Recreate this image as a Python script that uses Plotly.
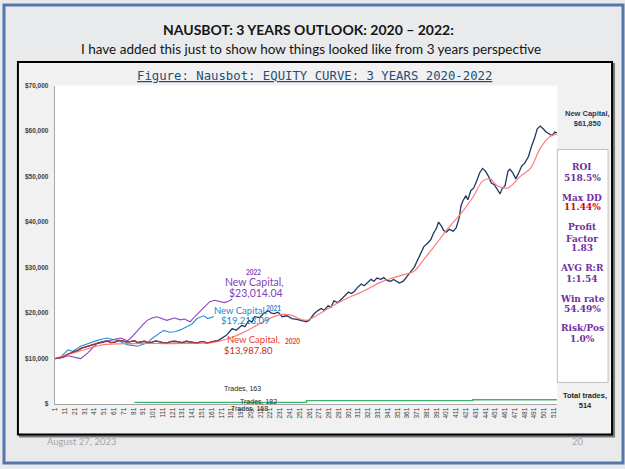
import plotly.graph_objects as go

W, H = 625, 469

# ---------------- data ----------------
# 2020 equity (trade number, equity)
trades_2020 = [1, 5, 9, 13, 17, 21, 24, 28, 31, 35, 39, 42, 46, 50, 54, 58, 62, 66, 70, 74, 78, 82, 85, 89,
               92, 96, 100, 104, 107, 111, 115, 119, 123, 127, 131, 135, 139, 143, 146, 150, 153, 156, 159, 163, 168]
equity_2020 = [10000, 10100, 10300, 10900, 11200, 11500, 11800, 12300, 12500, 12800, 13000, 13300, 13500, 13700,
               13900, 13500, 13600, 14000, 13900, 13600, 13700, 13900, 13500, 13700, 13800, 13500, 13600, 13900,
               13700, 13500, 13400, 13700, 13800, 13600, 13500, 13800, 13600, 13400, 13400, 13700, 13700, 13400,
               13500, 13800, 13988]

# 3-year equity continuation after 2020 (trade number, equity)
trades_rest = [172, 176, 182, 186, 192, 195, 199, 202, 205, 210, 214, 219, 222, 225, 229, 233, 238, 243, 248,
               253, 258, 261, 266, 270, 273, 276, 280, 283, 286, 290, 294, 297, 301, 304, 307, 310, 314, 317,
               321, 324, 327, 330, 334, 337, 340, 344, 347, 350, 353, 357, 360, 365, 368, 372, 375, 378, 382,
               385, 388, 391, 393, 396, 398, 401, 404, 408, 411, 414, 416, 418, 421, 423, 426, 429, 432, 435,
               438, 441, 444, 447, 450, 453, 456, 458, 461, 464, 466, 469, 472, 475, 478, 481, 485, 488, 491,
               494, 497, 500, 503, 506, 509, 512, 514]
equity_rest = [14600, 15100, 16600, 16200, 17300, 17000, 18400, 18000, 19200, 19000, 19900, 20500, 20000, 19900,
               20200, 19200, 19400, 18800, 18600, 18400, 18100, 18500, 19900, 20600, 21000, 20600, 21600, 21300,
               22700, 22300, 23100, 23600, 24600, 24300, 24800, 25600, 26400, 26000, 26800, 27400, 27000, 27700,
               27400, 27800, 27200, 27000, 27400, 26900, 26600, 27000, 27900, 29200, 30000, 31800, 33300, 34600,
               35400, 36100, 37600, 38700, 40000, 39100, 38200, 37800, 38400, 38000, 38700, 40800, 43600, 44700,
               45800, 44900, 46900, 47500, 49000, 50800, 51800, 51200, 50100, 48600, 48200, 47300, 46200, 47300,
               48000, 51200, 51600, 50800, 49500, 50800, 52300, 52900, 54400, 56600, 58300, 60500, 61100, 60500,
               59800, 59400, 59000, 59800, 59600]

# moving-average trend of the 3-year curve
trend_x = [1, 24, 49, 80, 121, 161, 177, 192, 207, 222, 233, 243, 250, 258, 268, 283, 299, 314, 334, 344,
           355, 368, 378, 392, 403, 416, 428, 438, 446, 453, 464, 477, 487, 497, 507, 514]
trend_y = [10000, 11500, 13000, 13300, 13300, 13500, 14300, 15600, 17300, 19000, 19700, 19500, 18800, 18400,
           19400, 21400, 23200, 24600, 26800, 27600, 28300, 29200, 31800, 35600, 38700, 41900, 45400, 49000,
           49500, 48000, 47500, 50100, 51800, 56200, 58800, 59400]

# 2021 equity
trades_2021 = [1, 7, 14, 19, 27, 34, 44, 49, 54, 60, 65, 70, 75, 80, 85, 90, 95, 100, 105, 112, 118, 123,
               129, 136, 141, 146, 153, 157, 160, 163]
equity_2021 = [10000, 10400, 11900, 11600, 12700, 13300, 14000, 14300, 14500, 14200, 14000, 13500, 13000,
               12900, 12700, 13100, 13400, 14400, 15100, 16200, 15800, 15900, 16300, 17000, 17600, 18800,
               19400, 18800, 19000, 19213]

# 2022 equity
trades_2022 = [1, 7, 14, 21, 27, 34, 39, 44, 49, 57, 63, 68, 71, 75, 80, 85, 90, 95, 100, 105, 110, 115,
               123, 129, 133, 139, 144, 149, 154, 159, 164, 169, 174, 178, 182]
equity_2022 = [10000, 10200, 10600, 10300, 10000, 11200, 12300, 13400, 13500, 14000, 14300, 14500, 14200,
               13900, 14900, 16200, 17300, 18400, 18900, 19200, 18800, 18400, 18900, 18500, 18700, 18100,
               19300, 20300, 21500, 22500, 22800, 22500, 22300, 22600, 23014]

# trade count line
count_x = [82, 258, 428, 514]
count_y = [350, 750, 950, 950]

y_ticks = [0, 10000, 20000, 30000, 40000, 50000, 60000, 70000]
y_ticktext = ["$", "$10,000", "$20,000", "$30,000", "$40,000", "$50,000", "$60,000", "$70,000"]
x_ticks = list(range(1, 512, 10))

stats = [("ROI", "518.5%"), ("Max DD", "11.44%"), ("Profit<br>Factor", "1.83"),
         ("AVG R:R", "1:1.54"), ("Win rate", "54.49%"), ("Risk/Pos", "1.0%")]

# ---------------- helpers ----------------
def px(x):
    return x / W

def py(y):
    return 1 - y / H

PL, PR, PT, PB = 52, 557, 83, 407

fig = go.Figure()

fig.add_trace(go.Scatter(x=count_x, y=count_y, mode="lines", line=dict(color="#3cb46e", width=1.3, shape="hv"),
                         hoverinfo="skip"))
fig.add_trace(go.Scatter(x=trades_2021, y=equity_2021, mode="lines", line=dict(color="#2f8fd8", width=1.1),
                         hoverinfo="skip"))
fig.add_trace(go.Scatter(x=trades_2022, y=equity_2022, mode="lines", line=dict(color="#8a44c4", width=1.1),
                         hoverinfo="skip"))
navy_x = trades_2020 + trades_rest
navy_y = equity_2020 + equity_rest
fig.add_trace(go.Scatter(x=navy_x, y=navy_y, mode="lines", line=dict(color="#1f3864", width=1.3),
                         hoverinfo="skip"))
fig.add_trace(go.Scatter(x=trend_x, y=trend_y, mode="lines",
                         line=dict(color="#ff7c7c", width=1.2, shape="spline", smoothing=0.8), hoverinfo="skip"))
fig.add_trace(go.Scatter(x=trades_2020, y=equity_2020, mode="lines", line=dict(color="#b8322a", width=1.3),
                         opacity=0.85, hoverinfo="skip"))

shapes = [
    # slide border
    dict(type="rect", xref="paper", yref="paper", x0=px(1), x1=px(623), y0=py(467), y1=py(1),
         line=dict(color="#5577aa", width=3), fillcolor="rgba(0,0,0,0)", layer="below"),
    # chart box shadow
    dict(type="rect", xref="paper", yref="paper", x0=px(17), x1=px(614), y0=py(440), y1=py(61),
         line=dict(color="#7a7a7a", width=2), fillcolor="#7a7a7a", layer="below"),
    # chart box
    dict(type="rect", xref="paper", yref="paper", x0=px(15), x1=px(612), y0=py(438), y1=py(59),
         line=dict(color="#000000", width=2), fillcolor="#f1f1f1", layer="below"),
    # plot area
    dict(type="rect", xref="paper", yref="paper", x0=px(PL), x1=px(PR), y0=py(PB), y1=py(PT),
         line=dict(width=0), fillcolor="#ffffff", layer="below"),
    # stats panel
    dict(type="rect", xref="paper", yref="paper", x0=px(557), x1=px(608), y0=py(385), y1=py(148),
         line=dict(color="#bfbfbf", width=1), fillcolor="#ffffff", layer="below"),
]

anns = []

def ann(x, y, text, size, color, family="Lato", xanchor="center"):
    anns.append(dict(x=px(x), y=py(y), xref="paper", yref="paper", text=text, showarrow=False,
                     xanchor=xanchor, yanchor="middle", align="center",
                     font=dict(size=size, color=color, family=family)))

ann(307, 26, "<b>NAUSBOT: 3 YEARS OUTLOOK: 2020 – 2022:</b>", 14, "#151515")
ann(309, 46, "I have added this just to show how things looked like from 3 years perspective", 13.5, "#151515")
ann(313, 73, "<u>Figure: Nausbot: EQUITY CURVE: 3 YEARS 2020-2022</u>", 12.3, "#1f4e79",
    family="DejaVu Sans Mono")

# year labels
ann(252, 273, "<b>2022</b>", 6.5, "#7f3fb8")
ann(253, 283, "New Capital,", 10.5, "#7f3fb8")
ann(254, 294, "$23,014.04", 10.5, "#7f3fb8")
ann(239, 312, "New Capital,", 9.5, "#2585d0")
ann(272, 310, "<b>2021</b>", 6.5, "#2585d0")
ann(243, 322, "$19,213.09", 9.5, "#2585d0")
ann(252, 341, "New Capital,", 9.5, "#e8402a")
ann(291, 343, "<b>2020</b>", 6.5, "#e8402a")
ann(247, 353, "$13,987.80", 9.5, "#c0301f")

# trades labels
ann(241, 391, "Trades, 163", 7, "#262626", family="Liberation Sans")
ann(257, 404, "Trades, 182", 7, "#262626", family="Liberation Sans")
ann(248, 412, "Trades, 168", 7, "#262626", family="Liberation Sans")

# right side
ann(587, 116, "<b>New Capital,<br>$61,850</b>", 7.5, "#1f3864", family="Liberation Sans")
stat_y = [(166, 177), (197, 207), (228, 248), (269, 280), (300, 310), (330, 341)]
for (lab, val), (y1, y2) in zip(stats, stat_y):
    if "<br>" in lab:
        ann(582, (y1 + 238) / 2, "<b>" + lab + "</b>", 9, "#7030a0", family="DejaVu Serif")
    else:
        ann(582, y1, "<b>" + lab + "</b>", 9, "#7030a0", family="DejaVu Serif")
    col = "#e00000" if lab == "Max DD" else "#7030a0"
    ann(582, y2, "<b>" + val + "</b>", 9, col, family="DejaVu Serif")
ann(585, 403, "<b>Total trades,<br>514</b>", 7.5, "#262626", family="Liberation Sans")

# footer
ann(42, 445, "August 27, 2023", 9.5, "#a6a6a6", xanchor="left")
ann(578, 445, "20", 9.5, "#a6a6a6")

fig.update_layout(
    width=W, height=H, margin=dict(l=0, r=0, t=0, b=0),
    paper_bgcolor="#e9eaec", plot_bgcolor="rgba(0,0,0,0)",
    showlegend=False, shapes=shapes, annotations=anns,
    xaxis=dict(domain=[px(PL), px(PR)], range=[0.5, 514.5], tickmode="array", tickvals=x_ticks,
               ticktext=[str(v) for v in x_ticks], tickangle=-90, showgrid=False, zeroline=False,
               showline=True, linecolor="#a6a6a6", linewidth=1, ticks="",
               tickfont=dict(size=6.5, color="#404040", family="Liberation Sans")),
    yaxis=dict(domain=[py(PB), py(PT)], range=[0, 70000], tickmode="array", tickvals=y_ticks,
               ticktext=["<b>" + t + "</b>" for t in y_ticktext], showgrid=False, zeroline=False,
               showline=True, linecolor="#a6a6a6", linewidth=1, ticks="outside", ticklen=4,
               tickcolor="rgba(0,0,0,0)",
               tickfont=dict(size=6.5, color="#404040", family="Liberation Sans")),
)

fig.write_html("out.html")
